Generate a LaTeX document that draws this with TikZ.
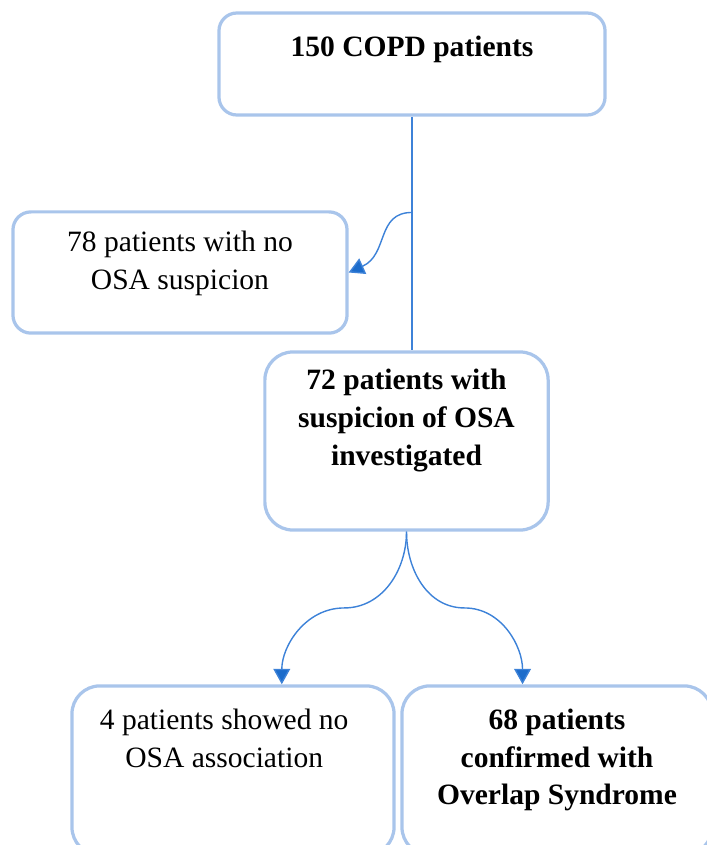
\documentclass[tikz,border=0pt]{standalone}
\usepackage{fontspec}
\setmainfont{Liberation Serif}
\usetikzlibrary{positioning, calc, arrows.meta}
\definecolor{boxblue}{HTML}{A9C5EB}
\definecolor{linkblue}{HTML}{3D82D8}
\definecolor{tipblue}{HTML}{1C6CCB}

\begin{document}
\begin{tikzpicture}[x=0.025cm, y=-0.025cm,
		box/.style={draw=boxblue, line width=2.3pt, rounded corners=0.45cm},
		big/.style={rounded corners=0.7cm},
		txt/.style={inner sep=0pt, align=center, font=\fontsize{21}{27}\selectfont},
		btxt/.style={txt, font=\fontsize{21}{27}\selectfont\bfseries},
		link/.style={draw=linkblue, line width=1.3pt},
		arrow/.style={link, line width=1pt, -{Triangle[width=12pt, length=11pt, fill=tipblue]}}]
		\useasboundingbox (0,0) rectangle (707,845);
		% boxes
		\node[box, minimum width=9.65cm, minimum height=2.55cm] (copd) at (412,64) {};
		\node[box, minimum width=8.35cm, minimum height=3.03cm] (nosusp) at (180,272.5) {};
		\node[box, big, minimum width=7.08cm, minimum height=4.45cm] (invest) at (406.5,441) {};
		\node[box, big, minimum width=8.05cm, minimum height=4.23cm] (noosa) at (233,770.5) {};
		\node[box, big, minimum width=7.75cm, minimum height=4.23cm] (overlap) at (557,770.5) {};
		% texts
		\node[btxt, below=0.6cm of copd.north] (copdtxt) {150 COPD patients};
		\node[txt, below=0.52cm of nosusp.north] (nosusptxt) {78 patients with no\\OSA suspicion};
		\node[btxt, below=0.45cm of invest.north] (investtxt) {72 patients with\\suspicion of OSA\\investigated};
		\node[txt, below=0.6cm of noosa.north, xshift=-0.22cm] (noosatxt) {4 patients showed no\\OSA association};
		\node[btxt, below=0.6cm of overlap.north] (overlaptxt) {68 patients\\confirmed with\\Overlap Syndrome};
		% connectors
		\draw[link] (copd.south) -- coordinate[pos=0.41] (fork) (copd.south |- invest.north);
		\draw[arrow] (fork) .. controls +(-36,0) and +(40,-18) .. (nosusp.east);
		\coordinate (noosatip) at ($(noosa.north west)!0.65!(noosa.north east)$);
		\coordinate (overtip) at ($(overlap.north west)!0.39!(overlap.north east)$);
		\foreach \tip/\a/\b in {noosatip/0/180, overtip/180/0}{
			\draw[arrow] (invest.south) to[out=-90, in=\a] ($(invest.south)!0.5!(\tip)$) to[out=\b, in=90] (\tip);
		}
	\end{tikzpicture}
\end{document}
